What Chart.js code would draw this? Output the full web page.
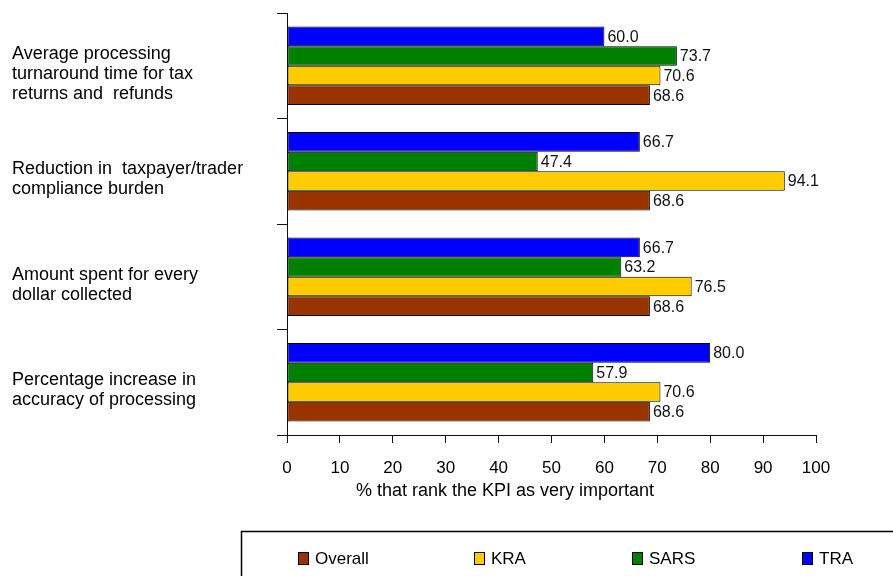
<!DOCTYPE html>
<html>
<head>
<meta charset="utf-8">
<script src="https://cdn.jsdelivr.net/npm/chart.js@4.4.1/dist/chart.umd.min.js"></script>
<style>
  html, body { margin: 0; padding: 0; background: #ffffff; }
  #wrap { width: 893px; height: 576px; }
</style>
</head>
<body>
<div id="wrap"><canvas id="kpi" width="893" height="576"></canvas></div>
<script>
// KPI categories (wrapped as multi-line labels)
const categories = [
  ["Average processing", "turnaround time for tax", "returns and  refunds"],
  ["Reduction in  taxpayer/trader", "compliance burden"],
  ["Amount spent for every", "dollar collected"],
  ["Percentage increase in", "accuracy of processing"]
];

// % of respondents ranking each KPI as very important
const traValues     = [60.0, 66.7, 66.7, 80.0];
const sarsValues    = [73.7, 47.4, 63.2, 57.9];
const kraValues     = [70.6, 94.1, 76.5, 70.6];
const overallValues = [68.6, 68.6, 68.6, 68.6];

const xTicks = [0, 10, 20, 30, 40, 50, 60, 70, 80, 90, 100];
const axisTitle = "% that rank the KPI as very important";

const FONT = "'Liberation Sans', Arial, sans-serif";

// value labels at the end of each bar
const valueLabels = {
  id: 'valueLabels',
  afterDatasetsDraw(chart) {
    const ctx = chart.ctx;
    ctx.save();
    ctx.font = "16px " + FONT;
    ctx.fillStyle = '#111';
    ctx.textAlign = 'left';
    ctx.textBaseline = 'middle';
    chart.data.datasets.forEach((ds, di) => {
      chart.getDatasetMeta(di).data.forEach((bar, i) => {
        ctx.fillText(ds.data[i].toFixed(1), bar.x + 3, bar.y + 1);
      });
    });
    ctx.restore();
  }
};

// axis title and boxed legend below the plot
const legendBox = {
  id: 'legendBox',
  afterDraw(chart) {
    const ctx = chart.ctx;
    ctx.save();
    ctx.font = "18px " + FONT;
    ctx.fillStyle = '#000';
    ctx.textAlign = 'center';
    ctx.textBaseline = 'middle';
    ctx.fillText(axisTitle, 505, 491);

    ctx.strokeStyle = '#000';
    ctx.lineWidth = 1.5;
    ctx.strokeRect(241.5, 531.5, 700, 100);

    const order = [3, 2, 1, 0]; // Overall, KRA, SARS, TRA
    const xs = [298, 474, 632, 802];
    ctx.font = "17px " + FONT;
    ctx.textAlign = 'left';
    order.forEach((di, k) => {
      const ds = chart.data.datasets[di];
      ctx.fillStyle = ds.backgroundColor;
      ctx.fillRect(xs[k], 552, 10, 12);
      ctx.lineWidth = 1;
      ctx.strokeStyle = '#000';
      ctx.strokeRect(xs[k] + 0.5, 552.5, 10, 12);
      ctx.fillStyle = '#000';
      ctx.fillText(ds.label, xs[k] + 17, 559);
    });
    ctx.restore();
  }
};

const barStyle = { borderColor: '#000', borderWidth: 1, borderSkipped: false };

new Chart(document.getElementById('kpi'), {
  type: 'bar',
  data: {
    labels: categories,
    datasets: [
      Object.assign({ label: 'TRA', data: traValues, backgroundColor: '#0000FF' }, barStyle),
      Object.assign({ label: 'SARS', data: sarsValues, backgroundColor: '#008000' }, barStyle),
      Object.assign({ label: 'KRA', data: kraValues, backgroundColor: '#FFCC00' }, barStyle),
      Object.assign({ label: 'Overall', data: overallValues, backgroundColor: '#993300' }, barStyle)
    ]
  },
  options: {
    indexAxis: 'y',
    responsive: false,
    devicePixelRatio: 1,
    animation: false,
    datasets: { bar: { categoryPercentage: 0.742, barPercentage: 1.0 } },
    layout: { padding: { left: 12, right: 77, top: 13, bottom: 100 } },
    plugins: { legend: { display: false }, tooltip: { enabled: false } },
    scales: {
      x: {
        min: 0, max: 100,
        afterBuildTicks(scale) { scale.ticks = xTicks.map(v => ({ value: v })); },
        ticks: { color: '#000', font: { family: FONT, size: 17 }, padding: 15, maxRotation: 0, autoSkip: false },
        grid: { drawOnChartArea: false, drawTicks: true, tickLength: 8, color: '#111' },
        border: { color: '#111', width: 1 },
        afterFit(scale) { scale.height = 41; }
      },
      y: {
        ticks: { crossAlign: 'far', labelOffset: 8, color: '#000', autoSkip: false, font: { family: FONT, size: 18, lineHeight: 1.1 } },
        grid: { offset: true, drawOnChartArea: false, drawTicks: true, tickLength: 10, color: '#111' },
        border: { color: '#111', width: 1 },
        afterFit(scale) { scale.width = 275; scale.paddingTop = 0; scale.paddingBottom = 0; }
      }
    }
  },
  plugins: [valueLabels, legendBox]
});
</script>
</body>
</html>
